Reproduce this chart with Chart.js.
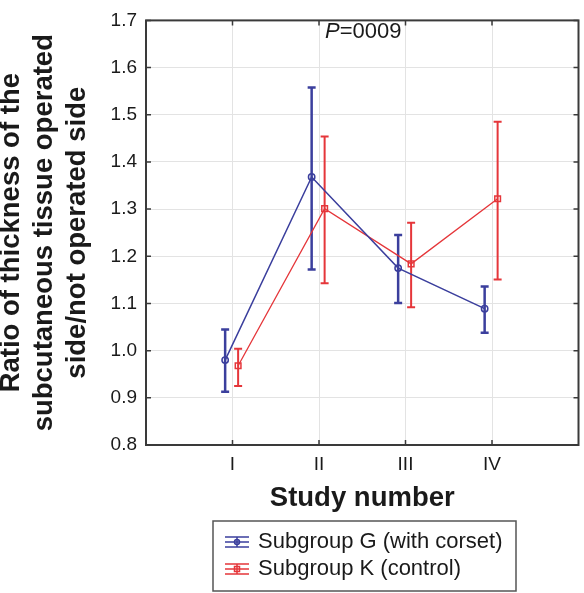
<!DOCTYPE html>
<html>
<head>
<meta charset="utf-8">
<script src="https://cdn.jsdelivr.net/npm/chart.js@4.4.1/dist/chart.umd.min.js"></script>
<style>
  html, body { margin: 0; padding: 0; background: #fff; }
  #wrap { width: 584px; height: 593px; }
</style>
</head>
<body>
<div id="wrap"><canvas id="myChart" width="584" height="593"></canvas></div>
<script>
// study points
const categories = ['I', 'II', 'III', 'IV']
const yTicks = [0.8, 0.9, 1.0, 1.1, 1.2, 1.3, 1.4, 1.5, 1.6, 1.7]

// subgroup G (with corset)
const gMean = [0.98, 1.368, 1.175, 1.089]
const gLow = [0.913, 1.172, 1.101, 1.038]
const gHigh = [1.045, 1.558, 1.245, 1.136]

// subgroup K (control)
const kMean = [0.968, 1.301, 1.184, 1.322]
const kLow = [0.925, 1.143, 1.092, 1.151]
const kHigh = [1.004, 1.454, 1.271, 1.485]

const pText = '=0009'

const blue = '#3b3f9d'
const red = '#e5363a'
const font = 'Liberation Sans, Arial, sans-serif'

// points sit a little left / right of the study tick
const toPoints = (vals, shift) => vals.map((v, i) => ({ x: i + 1 + shift, y: v }))

// error bars, frame ticks, p value and legend box
const extras = {
	id: 'extras',
	beforeDatasetsDraw: c => {
		const ctx = c.ctx
		const xs = c.scales.x
		const ys = c.scales.y
		c.data.datasets.forEach(ds => {
			ctx.save()
			ctx.strokeStyle = ds.borderColor
			ctx.lineWidth = ds.barWidth
			ds.data.forEach((p, i) => {
				const x = xs.getPixelForValue(p.x)
				const y1 = ys.getPixelForValue(ds.low[i])
				const y2 = ys.getPixelForValue(ds.high[i])
				ctx.beginPath()
				ctx.moveTo(x, y1)
				ctx.lineTo(x, y2)
				ctx.moveTo(x - 4, y1)
				ctx.lineTo(x + 4, y1)
				ctx.moveTo(x - 4, y2)
				ctx.lineTo(x + 4, y2)
				ctx.stroke()
			})
			ctx.restore()
		})
	},
	afterDraw: c => {
		const ctx = c.ctx
		const a = c.chartArea
		const xs = c.scales.x
		const ys = c.scales.y
		ctx.save()
		// frame
		ctx.strokeStyle = '#3a3a3a'
		ctx.lineWidth = 2
		ctx.strokeRect(a.left, a.top, a.right - a.left, a.bottom - a.top)
		// inward ticks
		ctx.lineWidth = 1.5
		ctx.beginPath()
		yTicks.forEach(v => {
			const y = ys.getPixelForValue(v)
			ctx.moveTo(a.left, y)
			ctx.lineTo(a.left + 5, y)
			ctx.moveTo(a.right, y)
			ctx.lineTo(a.right - 5, y)
		})
		categories.forEach((lab, i) => {
			const x = xs.getPixelForValue(i + 1)
			ctx.moveTo(x, a.bottom)
			ctx.lineTo(x, a.bottom - 5)
			ctx.moveTo(x, a.top)
			ctx.lineTo(x, a.top + 5)
		})
		ctx.stroke()

		// P value
		ctx.fillStyle = '#1a1a1a'
		ctx.textBaseline = 'middle'
		ctx.textAlign = 'left'
		ctx.font = 'italic 22px ' + font
		const pw = ctx.measureText('P').width
		ctx.font = '22px ' + font
		const rw = ctx.measureText(pText).width
		const px = (a.left + a.right) / 2 - (pw + rw) / 2 + 1
		ctx.font = 'italic 22px ' + font
		ctx.fillText('P', px, 32)
		ctx.font = '22px ' + font
		ctx.fillText(pText, px + pw, 32)

		// legend
		ctx.strokeStyle = '#555'
		ctx.lineWidth = 1.5
		ctx.strokeRect(213, 521, 303, 70)
		c.data.datasets.forEach((ds, i) => {
			const cy = 542 + i * 27
			const x0 = 225
			const x1 = 249
			const xm = (x0 + x1) / 2
			ctx.strokeStyle = ds.borderColor
			ctx.lineWidth = 1.5
			ctx.beginPath()
			ctx.moveTo(x0, cy - 5)
			ctx.lineTo(x1, cy - 5)
			ctx.moveTo(x0, cy)
			ctx.lineTo(x1, cy)
			ctx.moveTo(x0, cy + 5)
			ctx.lineTo(x1, cy + 5)
			ctx.moveTo(xm, cy - 5)
			ctx.lineTo(xm, cy + 5)
			ctx.stroke()
			ctx.beginPath()
			if (ds.pointStyle === 'rect') {
				ctx.rect(xm - 2.5, cy - 2.5, 5, 5)
			} else {
				ctx.arc(xm, cy, 2.5, 0, Math.PI * 2)
			}
			ctx.stroke()
			ctx.fillStyle = '#1a1a1a'
			ctx.font = '22px ' + font
			ctx.textBaseline = 'middle'
			ctx.fillText(ds.label, 258, cy)
		})
		ctx.restore()
	}
}

const chart = document.querySelector('#myChart').getContext('2d')

const myChart = new Chart(chart, {
	type: 'line',
	data: {
		datasets: [
			{
				label: 'Subgroup G (with corset)',
				data: toPoints(gMean, -0.085),
				low: gLow,
				high: gHigh,
				borderColor: blue,
				borderWidth: 1.5,
				barWidth: 2.5,
				pointStyle: 'circle',
				pointRadius: 3.2,
				pointBorderWidth: 1.5,
				pointBackgroundColor: 'rgba(255,255,255,0)',
				pointBorderColor: blue,
				tension: 0
			},
			{
				label: 'Subgroup K (control)',
				data: toPoints(kMean, 0.065),
				low: kLow,
				high: kHigh,
				borderColor: red,
				borderWidth: 1.3,
				barWidth: 2,
				pointStyle: 'rect',
				pointRadius: 4,
				pointBorderWidth: 1.5,
				pointBackgroundColor: 'rgba(255,255,255,0)',
				pointBorderColor: red,
				tension: 0
			}
		]
	},
	options: {
		responsive: false,
		animation: false,
		layout: { padding: { top: 7, right: 1, left: 0, bottom: 0 } },
		plugins: {
			legend: { display: false },
			tooltip: { enabled: false }
		},
		scales: {
			x: {
				type: 'linear',
				min: 0,
				max: 5,
				afterBuildTicks: axis => {
					axis.ticks = categories.map((c, i) => ({ value: i + 1 }))
				},
				afterFit: axis => {
					axis.height = 148
				},
				ticks: {
					autoSkip: false,
					maxRotation: 0,
					padding: 8,
					color: '#1a1a1a',
					font: { family: font, size: 19 },
					callback: v => categories[v - 1]
				},
				grid: { color: '#e3e3e3', lineWidth: 1, drawTicks: false },
				border: { display: false },
				title: {
					display: true,
					text: 'Study number',
					color: '#1a1a1a',
					font: { family: font, size: 27.5, weight: 'bold', lineHeight: 1.2 },
					padding: { top: 0, bottom: 78 }
				}
			},
			y: {
				min: 0.8,
				max: 1.7,
				afterBuildTicks: axis => {
					axis.ticks = yTicks.map(v => ({ value: v }))
				},
				afterFit: axis => {
					axis.width = 146
				},
				ticks: {
					padding: 9,
					color: '#1a1a1a',
					font: { family: font, size: 19 },
					callback: v => Number(v).toFixed(1)
				},
				grid: { color: '#e3e3e3', lineWidth: 1, drawTicks: false },
				border: { display: false },
				title: {
					display: true,
					text: [
						'Ratio of thickness of the',
						'subcutaneous tissue operated',
						'side/not operated side'
					],
					color: '#1a1a1a',
					font: { family: font, size: 27.5, weight: 'bold', lineHeight: 1.2 },
					padding: { top: -5, bottom: 0 }
				}
			}
		}
	},
	plugins: [extras]
})
</script>
</body>
</html>
